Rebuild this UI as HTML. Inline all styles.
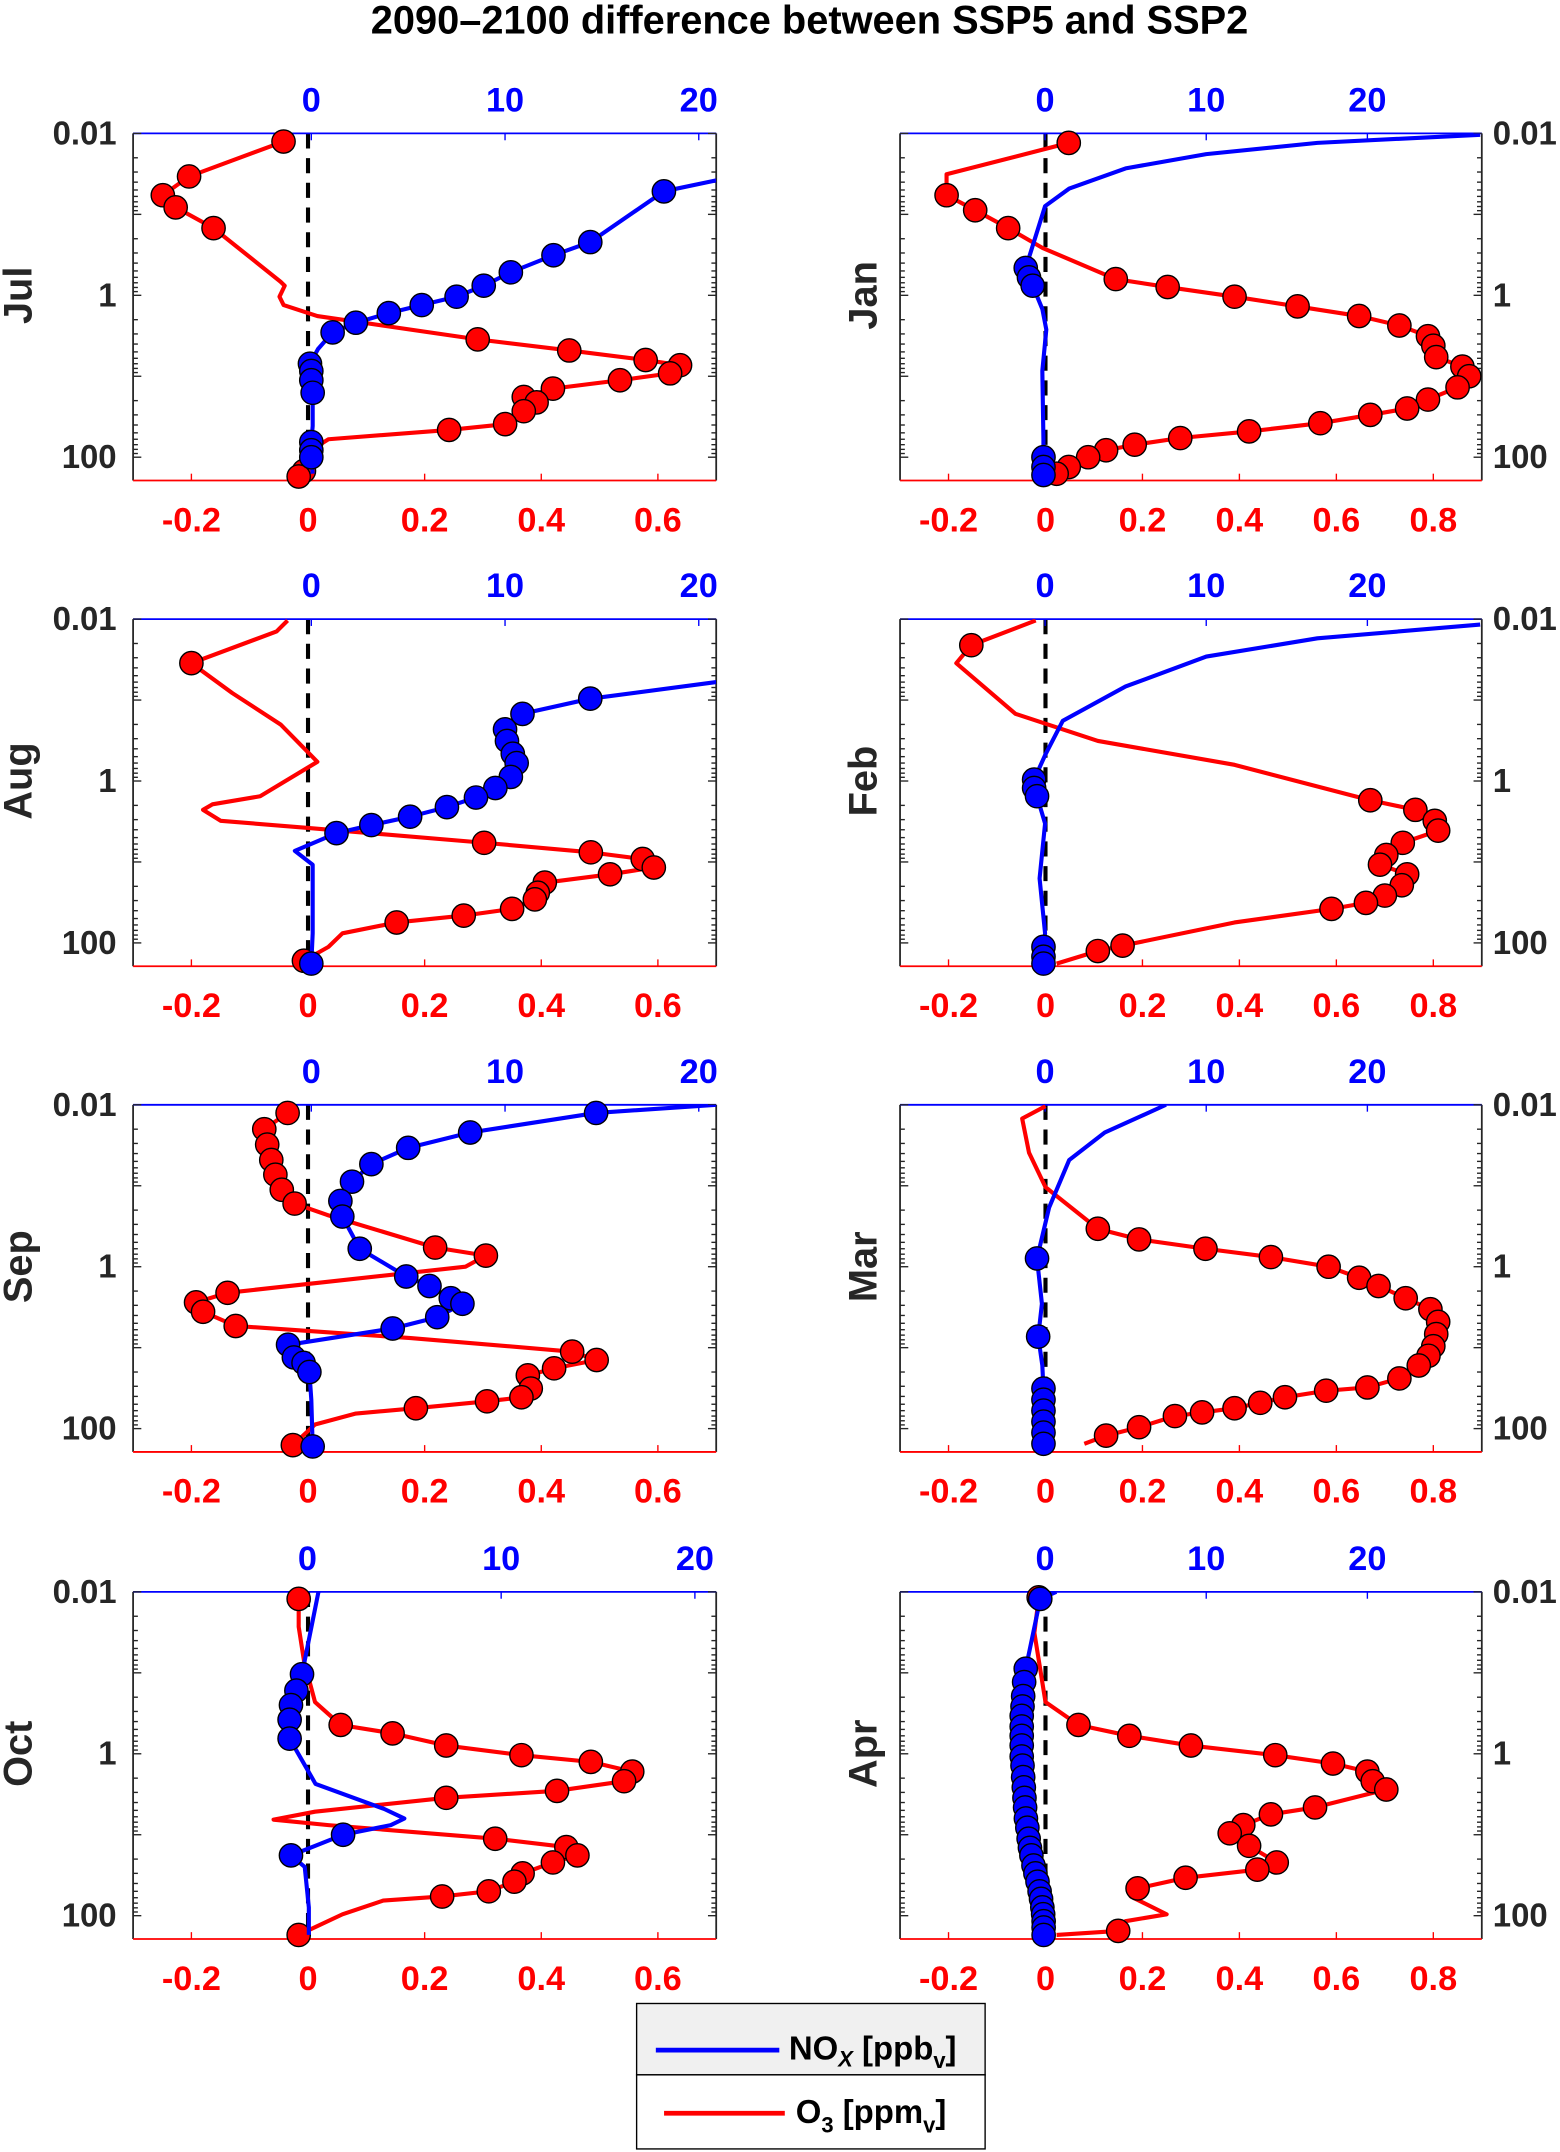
<!DOCTYPE html>
<html><head><meta charset="utf-8">
<style>
html,body{margin:0;padding:0;background:#fff;}
svg{display:block;font-family:"Liberation Sans",Arial,sans-serif;font-weight:bold;}
</style></head>
<body>
<svg id="fig" width="1560" height="2152" viewBox="0 0 1137 1568" xmlns="http://www.w3.org/2000/svg">
<rect x="0" y="0" width="1137" height="1568" fill="#fff"/>
<text x="590" y="24" text-anchor="middle" font-size="29" fill="#000">2090–2100 difference between SSP5 and SSP2</text>
<g id="panels"></g>
<g>
  <rect x="464" y="1460" width="254" height="52" fill="#f0f0f0" stroke="#000" stroke-width="1"/>
  <rect x="464" y="1512" width="254" height="54" fill="#fff" stroke="#000" stroke-width="1"/>
  <line x1="478" y1="1494" x2="568" y2="1494" stroke="#0000ff" stroke-width="3.5"/>
  <text x="575" y="1501" font-size="24" fill="#000">NO<tspan font-size="16" font-style="italic" dy="5">X</tspan><tspan dy="-5"> [ppb</tspan><tspan font-size="16" dy="6">v</tspan><tspan dy="-6">]</tspan></text>
  <line x1="484" y1="1540" x2="572" y2="1540" stroke="#ff0000" stroke-width="3.5"/>
  <text x="580" y="1547" font-size="24" fill="#000">O<tspan font-size="16" dy="7">3</tspan><tspan dy="-7"> [ppm</tspan><tspan font-size="16" dy="7">v</tspan><tspan dy="-7">]</tspan></text>
</g>
</svg>
<script>
// ===== DATA (pressure in hPa, O3 in ppmv, NOx in ppbv, marker flags) =====
const julO3P=[0.0126,0.034,0.058,0.082,0.148,0.68,0.76,1.04,1.32,1.8,3.5,4.8,6.3,7.3,9.2,11.2,14.2,18,21,27,39,46,60,76,100,148,173];
const julO3V=[-0.042,-0.204,-0.249,-0.227,-0.162,-0.047,-0.04,-0.049,-0.042,0.016,0.291,0.448,0.579,0.638,0.621,0.535,0.42,0.37,0.392,0.37,0.338,0.242,0.035,0.012,0.007,-0.007,-0.016];
const julO3M=[1,1,1,1,1,0,0,0,0,0,1,1,1,1,1,1,1,1,1,1,1,1,0,0,0,1,1];
const julNoxP=[0.038,0.052,0.22,0.32,0.52,0.76,1.04,1.32,1.66,2.18,2.87,4.6,7.0,8.6,11.2,16,41,65,82,100,160];
const julNoxV=[20.9,18.2,14.4,12.5,10.3,8.9,7.5,5.7,4.0,2.3,1.1,0.35,-0.07,0,0,0.07,0.07,0,0,0,0.07];
const julNoxM=[0,1,1,1,1,1,1,1,1,1,1,0,1,1,1,1,0,1,1,1,0];

const janO3P=[0.0131,0.032,0.058,0.089,0.148,0.26,0.63,0.79,1.04,1.37,1.8,2.36,3.2,4.2,5.8,7.6,10,13.7,19.4,25,30,38,48,58,70,82,100,132,160];
const janO3V=[0.048,-0.204,-0.204,-0.145,-0.077,-0.006,0.145,0.252,0.39,0.52,0.647,0.73,0.789,0.8,0.806,0.86,0.874,0.85,0.789,0.746,0.67,0.567,0.42,0.278,0.184,0.125,0.088,0.048,0.023];
const janO3M=[1,0,1,1,1,0,1,1,1,1,1,1,1,1,1,1,1,1,1,1,1,1,1,1,1,1,1,1,1];
const janNoxP=[0.0104,0.0131,0.018,0.027,0.048,0.079,0.46,0.60,0.76,1.48,2.65,8.6,60,100,132,166];
const janNoxV=[27,16.9,10,5,1.5,0,-1.2,-1,-0.77,-0.17,0.08,-0.17,-0.1,-0.1,-0.1,-0.1];
const janNoxM=[0,0,0,0,0,0,1,1,1,0,0,0,0,1,1,1];

const augO3P=[0.0104,0.0142,0.035,0.082,0.20,0.58,1.54,1.94,2.27,3.1,3.8,5.8,7.6,9.2,11.7,14.2,18,24,29,38,46,56,76,112,166];
const augO3V=[-0.035,-0.054,-0.2,-0.13,-0.047,0.016,-0.082,-0.164,-0.18,-0.15,0,0.302,0.485,0.574,0.593,0.518,0.406,0.394,0.389,0.35,0.267,0.152,0.059,0.035,-0.007];
const augO3M=[0,0,1,0,0,0,0,0,0,0,0,1,1,1,1,1,1,1,1,1,1,1,0,0,1];
const augNoxP=[0.060,0.096,0.148,0.23,0.32,0.46,0.60,0.89,1.22,1.6,2.1,2.76,3.5,4.4,7.3,10.8,76,180];
const augNoxV=[20.9,14.4,10.9,10,10.1,10.4,10.6,10.3,9.5,8.5,7,5.1,3.1,1.3,-0.85,0.07,0.07,0];
const augNoxM=[0,1,1,1,1,1,1,1,1,1,1,1,1,1,0,0,0,1];

const febO3P=[0.0104,0.021,0.035,0.148,0.32,0.63,1.73,2.27,3.1,4.1,5.8,8.2,10.8,14.2,19.4,26,32,38,56,108,126,180];
const febO3V=[-0.02,-0.153,-0.184,-0.062,0.108,0.39,0.67,0.763,0.803,0.81,0.737,0.703,0.69,0.746,0.735,0.7,0.661,0.59,0.39,0.159,0.108,0.023];
const febO3M=[0,1,0,0,0,0,1,1,1,1,1,1,1,1,1,1,1,1,0,1,1,0];
const febNoxP=[0.0117,0.0173,0.029,0.068,0.18,0.48,0.96,1.22,1.54,3.35,16,76,112,148,180];
const febNoxV=[27,16.9,10,5,1.1,0,-0.68,-0.68,-0.5,0,-0.34,0,-0.1,-0.1,-0.1];
const febNoxM=[0,0,0,0,0,0,1,1,1,0,0,0,1,1,1];

const sepO3P=[0.0126,0.020,0.031,0.048,0.073,0.112,0.166,0.23,0.58,0.73,1.0,2.1,2.76,3.6,5.4,7.6,11.2,14.2,18,22,32,41,46,56,65,89,160];
const sepO3V=[-0.035,-0.075,-0.07,-0.063,-0.056,-0.045,-0.023,0.033,0.218,0.305,0.27,-0.138,-0.192,-0.18,-0.124,0.176,0.453,0.495,0.422,0.377,0.382,0.366,0.307,0.185,0.082,0.012,-0.026];
const sepO3M=[1,1,1,1,1,1,1,0,1,1,0,1,1,1,1,0,1,1,1,1,1,1,1,1,0,0,1];
const sepNoxP=[0.01,0.0126,0.022,0.034,0.054,0.089,0.154,0.24,0.60,1.32,1.73,2.45,2.87,4.2,5.8,9.2,13.2,15.4,20,44,166];
const sepNoxV=[20.9,14.7,8.2,5,3.1,2.1,1.5,1.6,2.5,4.9,6.1,7.2,7.8,6.5,4.2,-1.2,-0.9,-0.4,-0.1,0,0.07];
const sepNoxM=[0,1,1,1,1,1,1,1,1,1,1,1,1,1,1,1,1,1,1,0,1];

const marO3P=[0.0104,0.0148,0.039,0.104,0.34,0.46,0.60,0.76,1.0,1.37,1.73,2.45,3.35,4.8,6.8,9.6,12.6,16.6,24,31,34,41,48,56,63,70,96,122,154];
const marO3V=[0,-0.048,-0.034,0,0.108,0.193,0.33,0.465,0.584,0.647,0.687,0.743,0.794,0.81,0.806,0.8,0.79,0.77,0.73,0.664,0.579,0.494,0.443,0.39,0.323,0.267,0.193,0.125,0.08];
const marO3M=[0,0,0,0,1,1,1,1,1,1,1,1,1,1,1,1,1,1,1,1,1,1,1,1,1,1,1,1,0];
const marNoxP=[0.01,0.022,0.048,0.187,0.79,2.87,7.3,16.6,32,44,60,82,112,154];
const marNoxV=[7.5,3.7,1.5,0.25,-0.5,-0.2,-0.43,-0.17,-0.1,-0.1,-0.1,-0.1,-0.1,-0.1];
const marNoxM=[0,0,0,0,1,0,1,0,1,1,1,1,1,1];

const octO3P=[0.0122,0.027,0.070,0.23,0.44,0.56,0.79,1.04,1.26,1.66,2.18,2.87,3.5,5.2,6.5,7.6,11.2,14.2,18,22,30,38,50,58,65,96,173];
const octO3V=[-0.016,-0.016,-0.007,0.012,0.056,0.145,0.237,0.366,0.485,0.556,0.542,0.427,0.237,0.012,-0.059,0.035,0.321,0.443,0.462,0.42,0.368,0.354,0.31,0.23,0.129,0.059,-0.016];
const octO3M=[1,0,0,0,1,1,1,1,1,1,1,1,1,0,0,0,1,1,1,1,1,1,1,1,0,0,1];
const octNoxP=[0.01,0.104,0.166,0.25,0.38,0.65,2.36,4.8,6.3,7.6,10,18,25,79,173];
const octNoxV=[0.57,-0.28,-0.57,-0.85,-0.92,-0.92,0.42,3.96,5.0,4.3,1.84,-0.85,-0.14,0.07,0.07];
const octNoxM=[0,1,1,1,1,1,0,0,0,0,1,1,0,0,0];

const aprO3P=[0.0117,0.032,0.23,0.44,0.60,0.79,1.04,1.32,1.66,2.18,2.76,4.6,5.6,7.6,9.6,13.7,22,27,34,46,58,96,117,154,173];
const aprO3V=[-0.014,-0.023,0,0.068,0.173,0.3,0.474,0.593,0.664,0.675,0.703,0.556,0.465,0.408,0.38,0.42,0.477,0.437,0.289,0.19,0.176,0.25,0.165,0.15,0.023];
const aprO3M=[1,0,0,1,1,1,1,1,1,1,1,1,1,1,1,1,1,1,1,1,0,0,0,1,0];
const aprNoxP=[0.01,0.0122,0.089,0.13,0.194,0.26,0.34,0.46,0.60,0.79,1.08,1.4,1.94,2.6,3.5,4.6,6.3,8.2,11.2,14.5,18,24,30,38,50,62,79,96,117,140,173];
const aprNoxV=[0.7,-0.3,-1.2,-1.3,-1.36,-1.4,-1.45,-1.45,-1.45,-1.45,-1.45,-1.4,-1.36,-1.32,-1.28,-1.24,-1.19,-1.1,-1.02,-0.94,-0.85,-0.72,-0.6,-0.47,-0.34,-0.25,-0.17,-0.12,-0.09,-0.09,-0.09];
const aprNoxM=[0,1,1,1,1,1,1,1,1,1,1,1,1,1,1,1,1,1,1,1,1,1,1,1,1,1,1,1,1,1,1];

const months=['Jul','Jan','Aug','Feb','Sep','Mar','Oct','Apr'];
const o3TicksLeft=[-0.2,0,0.2,0.4,0.6];
const o3TicksRight=[-0.2,0,0.2,0.4,0.6,0.8];
const noxTicks=[0,10,20];
const pTicks=[0.01,1,100];

// ===== LAYOUT =====
const NS='http://www.w3.org/2000/svg';
const root=document.getElementById('panels');
const colX=[[97,522],[656,1080]];
const rowTop=[97,451,805,1160];
const H=253;
const pMin=0.01, pMax=Math.pow(10,H/59-2);
const panels=[
 {m:'Jul',c:0,r:0,o:[julO3P,julO3V,julO3M],n:[julNoxP,julNoxV,julNoxM],nd:[-9.2,20.9]},
 {m:'Jan',c:1,r:0,o:[janO3P,janO3V,janO3M],n:[janNoxP,janNoxV,janNoxM],nd:[-9.0,27.1]},
 {m:'Aug',c:0,r:1,o:[augO3P,augO3V,augO3M],n:[augNoxP,augNoxV,augNoxM],nd:[-9.2,20.9]},
 {m:'Feb',c:1,r:1,o:[febO3P,febO3V,febO3M],n:[febNoxP,febNoxV,febNoxM],nd:[-9.0,27.1]},
 {m:'Sep',c:0,r:2,o:[sepO3P,sepO3V,sepO3M],n:[sepNoxP,sepNoxV,sepNoxM],nd:[-9.2,20.9]},
 {m:'Mar',c:1,r:2,o:[marO3P,marO3V,marO3M],n:[marNoxP,marNoxV,marNoxM],nd:[-9.0,27.1]},
 {m:'Oct',c:0,r:3,o:[octO3P,octO3V,octO3M],n:[octNoxP,octNoxV,octNoxM],nd:[-9.0,21.1]},
 {m:'Apr',c:1,r:3,o:[aprO3P,aprO3V,aprO3M],n:[aprNoxP,aprNoxV,aprNoxM],nd:[-9.0,27.1]}
];
function mk(tag,attrs,parent){const e=document.createElementNS(NS,tag);for(const k in attrs)e.setAttribute(k,attrs[k]);(parent||root).appendChild(e);return e;}

panels.forEach((pn,idx)=>{
 const x0=colX[pn.c][0],x1=colX[pn.c][1],y0=rowTop[pn.r],y1=y0+H;
 const od=pn.c===0?[-0.3,0.7]:[-0.3,0.9];
 const xO=v=>x0+(v-od[0])/(od[1]-od[0])*(x1-x0);
 const xN=v=>x0+(v-pn.nd[0])/(pn.nd[1]-pn.nd[0])*(x1-x0);
 const yP=p=>y0+(Math.log10(p)-Math.log10(pMin))/(Math.log10(pMax)-Math.log10(pMin))*H;
 const g=mk('g',{});
 
 
 const cid='clip'+idx;
 const cp=mk('clipPath',{id:cid},g);mk('rect',{x:x0,y:y0,width:x1-x0,height:H},cp);
 const dz=mk('line',{x1:xO(0),x2:xO(0),y1:y0,y2:y1-4,stroke:'#000','stroke-width':3,'stroke-dasharray':'11 7'},g);
 
 
 const la=mk('line',{x1:x0,x2:x0,y1:y0,y2:y1,stroke:'#262626','stroke-width':1.3},g);
 
 
 const ra=mk('line',{x1:x1,x2:x1,y1:y0,y2:y1,stroke:'#262626','stroke-width':1.3},g);
 
 
 const ta=mk('line',{x1:x0,x2:x1,y1:y0,y2:y0,stroke:'#0000ff','stroke-width':1.3},g);
 
 
 const ba=mk('line',{x1:x0,x2:x1,y1:y1,y2:y1,stroke:'#ff0000','stroke-width':1.3},g);
 
 
 for(let d=-2;d<=2;d++){for(let k=1;k<=9;k++){const p=k*Math.pow(10,d);if(p<pMin||p>pMax)continue;const y=yP(p);const L=k===1?6:3.5;
   mk('line',{x1:x0,x2:x0+L,y1:y,y2:y,stroke:'#262626','stroke-width':1},g);
   mk('line',{x1:x1,x2:x1-L,y1:y,y2:y,stroke:'#262626','stroke-width':1},g);}}
 pTicks.forEach(p=>{const t=mk('text',{x:pn.c===0?x0-12:x1+8,y:yP(p)+8,'text-anchor':pn.c===0?'end':'start','font-size':24,fill:'#262626'},g);t.textContent=String(p);
  
  });
 (pn.c===0?o3TicksLeft:o3TicksRight).forEach(v=>{const x=xO(v);mk('line',{x1:x,x2:x,y1:y1,y2:y1-5,stroke:'#ff0000','stroke-width':1},g);
  const t=mk('text',{x:x,y:y1+37,'text-anchor':'middle','font-size':25,fill:'#ff0000'},g);t.textContent=(v===0?'0':String(v));
  
  });
 noxTicks.forEach(v=>{const x=xN(v);mk('line',{x1:x,x2:x,y1:y0,y2:y0+5,stroke:'#0000ff','stroke-width':1},g);
  const t=mk('text',{x:x,y:y0-16,'text-anchor':'middle','font-size':25,fill:'#0000ff'},g);t.textContent=String(v);
  
  });
 const mx=pn.c===0?23:639, my=yP(1);
 const ml=mk('text',{x:mx,y:my,'text-anchor':'middle','font-size':29,fill:'#262626',transform:'rotate(-90 '+mx+' '+my+')'},g);ml.textContent=pn.m;
 
 
 const series=[{d:pn.o,f:xO,col:'#ff0000',name:'o3'},{d:pn.n,f:xN,col:'#0000ff',name:'nox'}];
 series.forEach(s=>{
  const P=s.d[0],V=s.d[1],M=s.d[2];
  const pts=P.map((p,i)=>s.f(V[i]).toFixed(1)+','+yP(p).toFixed(1)).join(' ');
  const pl=mk('polyline',{points:pts,fill:'none',stroke:s.col,'stroke-width':3,'stroke-linejoin':'round','clip-path':'url(#'+cid+')'},g);
  
  
  P.forEach((p,i)=>{if(!M[i])return;
   const c=mk('circle',{cx:s.f(V[i]),cy:yP(p),r:8.5,fill:s.col,stroke:'#000','stroke-width':1},g);
   
   });
 });
});
</script>
</body></html>
